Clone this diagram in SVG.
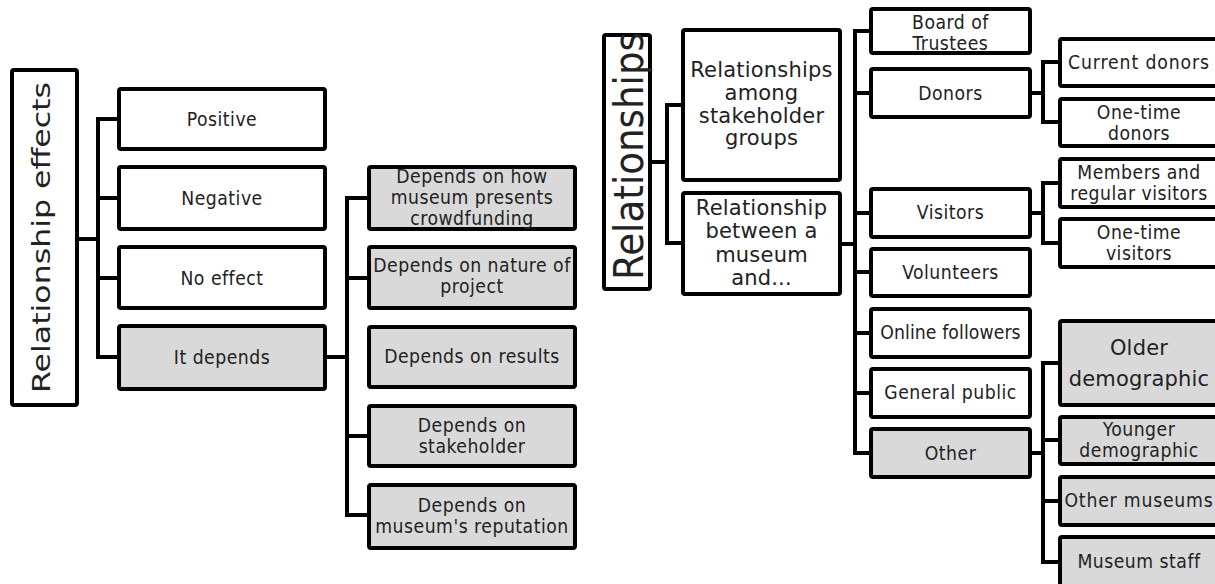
<svg xmlns="http://www.w3.org/2000/svg" width="1215" height="584" viewBox="0 0 1215 584">
<style>
.b{fill:#fff;stroke:#000;stroke-width:4}
.g{fill:#d9d9d9;stroke:#000;stroke-width:4}
.c{fill:none;stroke:#000;stroke-width:4;stroke-linecap:square;stroke-linejoin:miter}
text{font-family:"DejaVu Sans Condensed","DejaVu Sans",sans-serif;font-stretch:condensed;fill:#222;text-anchor:middle;font-size:19.2px;letter-spacing:0.5px}
.t21{font-family:"DejaVu Sans",sans-serif;font-stretch:normal;font-size:21px;letter-spacing:0.2px}
.ttl{font-family:"DejaVu Sans",sans-serif;font-stretch:normal;letter-spacing:0}
</style>
<rect width="1215" height="584" fill="#fff"/>
<g id="connectors">
<path class="c" d="M79 239 H98 M117 119 H98 V357 H117 M98 198 H117 M98 278 H117"/>
<path class="c" d="M327 357 H347 M367 198 H347 V515 H367 M347 278 H367 M347 436 H367"/>
<path class="c" d="M652 162 H667 M682 105 H667 V243 H682"/>
<path class="c" d="M842 244 H855 M870 31 H855 V453 H870 M855 93 H870 M855 213 H870 M855 272 H870 M855 333 H870 M855 393 H870"/>
<path class="c" d="M1031 93 H1043 M1058 62 H1043 V122 H1058"/>
<path class="c" d="M1031 213 H1043 M1058 183 H1043 V243 H1058"/>
<path class="c" d="M1031 453 H1043 M1058 363 H1043 V562 H1058 M1043 440 H1058 M1043 501 H1058"/>
</g>
<g id="n-effects">
<rect class="b" x="12" y="70" width="65" height="335" rx="2"/>
<text class="ttl" transform="translate(50,237.5) rotate(-90)" style="font-size:25px" textLength="311" lengthAdjust="spacingAndGlyphs">Relationship effects</text>
</g>
<g id="n-positive"><rect class="b" x="119" y="89" width="206" height="60" rx="2"/><text x="222" y="126">Positive</text></g>
<g id="n-negative"><rect class="b" x="119" y="167" width="206" height="62" rx="2"/><text x="222" y="205">Negative</text></g>
<g id="n-noeffect"><rect class="b" x="119" y="247" width="206" height="61" rx="2"/><text x="222" y="285">No effect</text></g>
<g id="n-depends"><rect class="g" x="119" y="326" width="206" height="63" rx="2"/><text x="222" y="364">It depends</text></g>
<g id="n-how"><rect class="g" x="369" y="167" width="206" height="62" rx="2"/><text x="472" y="183">Depends on how</text><text x="472" y="204">museum presents</text><text x="472" y="225">crowdfunding</text></g>
<g id="n-nature"><rect class="g" x="369" y="247" width="206" height="61" rx="2"/><text x="472" y="272">Depends on nature of</text><text x="472" y="293">project</text></g>
<g id="n-results"><rect class="g" x="369" y="327" width="206" height="60" rx="2"/><text x="472" y="363">Depends on results</text></g>
<g id="n-stakeholder"><rect class="g" x="369" y="406" width="206" height="60" rx="2"/><text x="472" y="432">Depends on</text><text x="472" y="453">stakeholder</text></g>
<g id="n-reputation"><rect class="g" x="369" y="485" width="206" height="63" rx="2"/><text x="472" y="512">Depends on</text><text x="472" y="533">museum's reputation</text></g>
<g id="n-relationships">
<rect class="b" x="604" y="35" width="46" height="254" rx="2"/>
<text class="ttl" transform="translate(643,156) rotate(-90)" style="font-size:40px" textLength="248" lengthAdjust="spacingAndGlyphs">Relationships</text>
</g>
<g id="n-among"><rect class="b" x="683" y="30" width="157" height="150" rx="2"/><text class="t21" x="761.5" y="77">Relationships</text><text class="t21" x="761.5" y="100">among</text><text class="t21" x="761.5" y="123">stakeholder</text><text class="t21" x="761.5" y="145">groups</text></g>
<g id="n-between"><rect class="b" x="683" y="193" width="157" height="101" rx="2"/><text class="t21" x="761.5" y="215">Relationship</text><text class="t21" x="761.5" y="238">between a</text><text class="t21" x="761.5" y="262">museum</text><text class="t21" x="761.5" y="285">and...</text></g>
<g id="n-board"><rect class="b" x="871" y="9" width="159" height="44" rx="2"/><text x="950.5" y="29">Board of</text><text x="950.5" y="50">Trustees</text></g>
<g id="n-donors"><rect class="b" x="871" y="69" width="159" height="48" rx="2"/><text x="950.5" y="100">Donors</text></g>
<g id="n-visitors"><rect class="b" x="871" y="189" width="159" height="48" rx="2"/><text x="950.5" y="219">Visitors</text></g>
<g id="n-volunteers"><rect class="b" x="871" y="249" width="159" height="47" rx="2"/><text x="950.5" y="279">Volunteers</text></g>
<g id="n-online"><rect class="b" x="871" y="309" width="159" height="48" rx="2"/><text x="950.5" y="339" style="letter-spacing:0.1px">Online followers</text></g>
<g id="n-public"><rect class="b" x="871" y="369" width="159" height="48" rx="2"/><text x="950.5" y="399">General public</text></g>
<g id="n-other"><rect class="g" x="871" y="429" width="159" height="48" rx="2"/><text x="950.5" y="460">Other</text></g>
<g id="n-current"><rect class="b" x="1060" y="39" width="158" height="47" rx="2"/><text x="1139" y="69" style="letter-spacing:0.9px">Current donors</text></g>
<g id="n-onetime-donors"><rect class="b" x="1060" y="99" width="158" height="47" rx="2"/><text x="1139" y="119">One-time</text><text x="1139" y="140">donors</text></g>
<g id="n-members"><rect class="b" x="1060" y="159" width="158" height="48" rx="2"/><text x="1139" y="179">Members and</text><text x="1139" y="200">regular visitors</text></g>
<g id="n-onetime-visitors"><rect class="b" x="1060" y="219" width="158" height="48" rx="2"/><text x="1139" y="239">One-time</text><text x="1139" y="260">visitors</text></g>
<g id="n-older"><rect class="g" x="1060" y="321" width="158" height="84" rx="2"/><text class="t21" x="1139" y="355">Older</text><text class="t21" x="1139" y="386">demographic</text></g>
<g id="n-younger"><rect class="g" x="1060" y="417" width="158" height="47" rx="2"/><text x="1139" y="436">Younger</text><text x="1139" y="457">demographic</text></g>
<g id="n-museums"><rect class="g" x="1060" y="477" width="158" height="48" rx="2"/><text x="1139" y="507" style="letter-spacing:0.8px">Other museums</text></g>
<g id="n-staff"><rect class="g" x="1060" y="537" width="158" height="60" rx="2"/><text x="1139" y="568">Museum staff</text></g>
</svg>
